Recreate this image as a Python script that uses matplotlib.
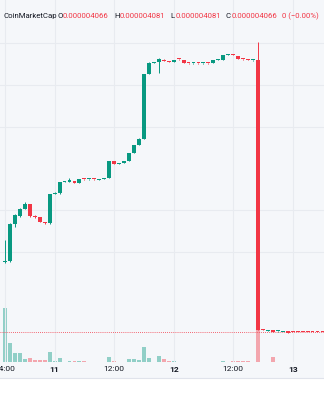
import numpy as np
import matplotlib.pyplot as plt
from matplotlib.patches import Rectangle
from matplotlib.lines import Line2D

plt.rcParams['font.family'] = ['Roboto', 'DejaVu Sans']

# hourly candles, price in units of 1e-6
opens = [15.97, 16.14, 22.43, 23.79, 24.98, 25.83, 23.79, 23.62, 22.77, 22.60,
         27.53, 27.70, 29.57, 29.65, 29.74, 29.40, 30.08, 30.00, 30.08, 29.90,
         30.08, 30.25, 33.14, 32.63, 32.80, 33.14, 34.50, 35.86, 36.88, 47.93,
         49.80, 49.97, 50.31, 50.14, 49.97, 50.48, 50.31, 49.80, 49.75, 49.80,
         49.75, 49.80, 49.80, 50.31, 50.31, 51.16, 51.20, 50.99, 50.48, 50.40,
         50.25, 50.31, 4.45, 4.24, 4.41, 4.20, 4.07, 4.24, 4.066, 4.066,
         4.066, 4.066, 4.066, 4.066, 4.066]
highs = [19.71, 22.60, 24.10, 25.10, 26.17, 25.90, 23.90, 23.70, 22.85, 27.60,
         27.80, 29.65, 29.70, 30.25, 29.80, 30.15, 30.12, 30.12, 30.12, 30.12,
         30.30, 33.20, 33.20, 32.85, 33.20, 34.55, 35.90, 37.00, 48.00, 49.97,
         50.00, 50.65, 50.40, 50.20, 50.35, 50.55, 50.35, 49.85, 49.85, 49.85,
         49.85, 49.85, 50.35, 50.45, 51.20, 51.25, 51.25, 51.05, 50.52, 50.45,
         50.35, 53.37, 4.50, 4.35, 4.45, 4.28, 4.15, 4.28, 4.081, 4.081,
         4.081, 4.081, 4.081, 4.081, 4.081]
lows = [15.80, 15.97, 21.92, 23.62, 24.90, 23.70, 23.50, 22.70, 22.50, 22.50,
        27.45, 27.60, 29.50, 29.60, 29.35, 29.35, 29.95, 29.95, 29.95, 29.85,
        30.05, 30.20, 32.55, 32.60, 32.75, 33.10, 34.45, 35.80, 36.80, 47.90,
        49.75, 48.10, 50.10, 49.90, 49.90, 50.35, 49.75, 49.70, 49.70, 49.70,
        49.70, 49.70, 49.75, 50.25, 50.25, 51.10, 51.10, 50.40, 50.35, 50.25,
        50.20, 4.41, 4.38, 4.20, 4.03, 4.15, 4.05, 3.90, 4.060, 4.060,
        4.060, 4.060, 4.060, 4.060, 4.060]
closes = [16.14, 22.43, 23.96, 24.98, 25.83, 23.79, 23.62, 22.77, 22.60, 27.53,
          27.70, 29.57, 29.65, 29.74, 29.40, 30.08, 30.00, 30.08, 30.00, 30.08,
          30.25, 33.14, 32.63, 32.80, 33.14, 34.50, 35.86, 36.88, 47.93, 49.80,
          49.97, 50.48, 50.14, 49.97, 50.31, 50.40, 49.80, 49.75, 49.80, 49.75,
          49.80, 49.75, 50.31, 50.40, 51.16, 51.20, 51.16, 50.48, 50.40, 50.31,
          50.31, 4.41, 4.41, 4.30, 4.07, 4.24, 4.12, 3.95, 4.066, 4.066,
          4.066, 4.066, 4.066, 4.066, 4.066]
volumes = [5400, 1900, 900, 900, 300, 400, 200, 200, 200, 1000,
           100, 400, 50, 150, 100, 70, 150, 50, 50, 50,
           50, 500, 70, 30, 50, 300, 300, 200, 1500, 400,
           50, 600, 300, 100, 150, 50, 50, 30, 30, 30,
           30, 30, 50, 30, 100, 30, 150, 150, 150, 150,
           30, 3400, 30, 30, 500, 30, 30, 30, 20, 20,
           20, 20, 20, 20, 20]
last_price = 4.066

tick_pos = [0, 10, 22, 34, 46, 58]
tick_lbl = ['14:00', '11', '12:00', '12', '12:00', '13']
grid_prices = [53.20, 46.06, 38.92, 24.81, 17.67]

GREEN = '#089981'
RED = '#f23645'
BG = '#f5f7fa'
GRID = '#e8ebf0'

fig = plt.figure(figsize=(3.24, 4.0), dpi=100)
fig.patch.set_facecolor('white')
fig.patches.append(Rectangle((0, 22 / 400), 1, 378 / 400, transform=fig.transFigure,
                             facecolor=BG, edgecolor='none', zorder=-5))
fig.lines.append(Line2D([0, 1], [22 / 400, 22 / 400], transform=fig.transFigure,
                        color='#e0e3eb', lw=0.8))

rect = [0, 38 / 400, 1, 362 / 400]
axv = fig.add_axes(rect)
ax = fig.add_axes(rect)

x = np.arange(len(opens))
o = np.array(opens)
c = np.array(closes)
up = c > o

# volume (bottom layer, holds background and grid)
axv.set_facecolor(BG)
axv.bar(x, volumes, width=0.78, color=np.where(up, GREEN, RED), alpha=0.42, linewidth=0)
axv.set_ylim(0, 36200)
axv.set_xlim(-1.01, 64.31)
axv.set_yticks([])
axv.set_xticks(tick_pos)
axv.set_xticklabels([])
axv.tick_params(length=0)
axv.grid(axis='x', color=GRID, lw=0.8)
for s in axv.spines.values():
    s.set_visible(False)

# candles
ax.set_facecolor('none')
colors = np.where(up, GREEN, RED)
ax.vlines(x, lows, highs, color=colors, lw=0.7)
body = np.maximum(np.abs(c - o), 0.22)
ax.bar(x, body, bottom=np.minimum(o, c), width=0.78, color=colors, linewidth=0)
ax.axhline(last_price, color=RED, lw=0.6, ls=(0, (1, 1.5)))
ax.set_xlim(-1.01, 64.31)
ax.set_ylim(-1.03, 60.51)
ax.set_yticks(grid_prices)
ax.set_yticklabels([])
ax.grid(axis='y', color=GRID, lw=0.8)
ax.set_axisbelow(True)
ax.set_xticks(tick_pos)
ax.set_xticklabels(tick_lbl, fontsize=6, color='#131722')
for lbl in ax.get_xticklabels():
    if ':' not in lbl.get_text():
        lbl.set_fontweight('bold')
ax.tick_params(length=0, pad=3)
for s in ax.spines.values():
    s.set_visible(False)

# header
hy = 1 - 16 / 400
fs = 5.6
fig.text(3 / 324, hy, 'CoinMarketCap', fontsize=fs, color='#131722', va='center')
parts = [(57, 'O', '0.000004066'), (114, 'H', '0.000004081'),
         (170, 'L', '0.000004081'), (226, 'C', '0.000004066')]
for px, k, v in parts:
    fig.text(px / 324, hy, k, fontsize=fs, color='#131722', va='center')
    fig.text((px + 5.8) / 324, hy, v, fontsize=fs, color=RED, va='center')
fig.text(282 / 324, hy, '0 (\u22120.00%)', fontsize=fs, color=RED, va='center')

fig.savefig('out.png', dpi=100)
